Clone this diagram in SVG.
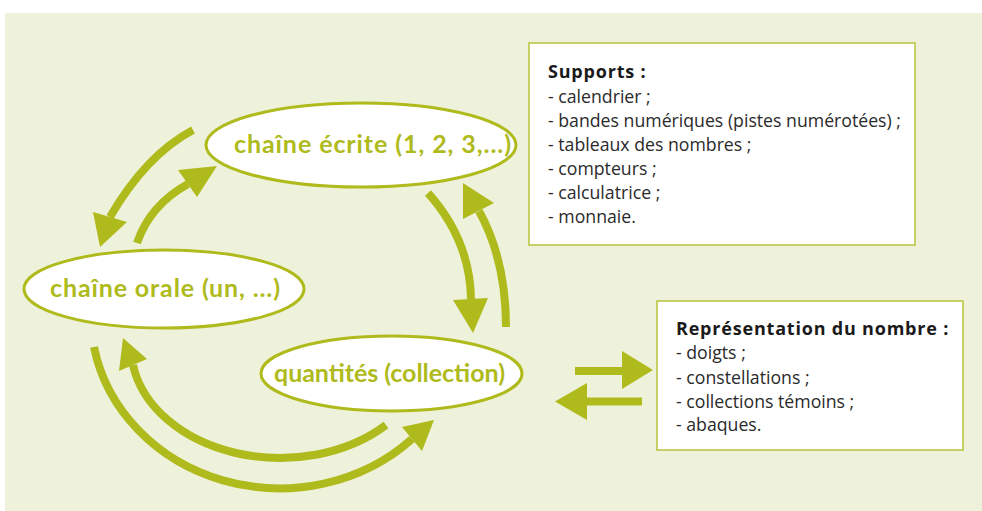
<svg xmlns="http://www.w3.org/2000/svg" width="982" height="511" viewBox="0 0 982 511">
  <style>
    .bg { fill: #eff2da; }
    .node ellipse { fill: #ffffff; stroke: #afba1c; stroke-width: 3; }
    .label { font-family: "Lato", "Open Sans", sans-serif; font-weight: bold; font-size: 25px; fill: #afba1c; text-anchor: middle; }
    .box rect { fill: #ffffff; stroke: #b8c33a; stroke-width: 1.5; }
    .box text { font-family: "Open Sans", "Noto Sans", sans-serif; font-size: 17.7px; fill: #2a2a2a; }
    .box .title { font-weight: bold; font-size: 18px; letter-spacing: 0.8px; fill: #1a1a1a; }
    .conn path { fill: none; stroke: #afba1c; stroke-width: 8; }
    .conn polygon { fill: #afba1c; }
  </style>
  <rect class="bg" x="5" y="13" width="977" height="498"/>

  <g id="connectors" class="conn">
    <!-- écrite -> orale -->
    <path d="M193,130 Q146,155 110,217"/>
    <polygon points="93,212 127,222 100,247"/>
    <!-- orale -> écrite -->
    <path d="M137,243 Q150,205 188,184"/>
    <polygon points="178,170 197,197 217,166"/>
    <!-- écrite -> quantités -->
    <path d="M428,193 Q470,240 471,299"/>
    <polygon points="453,300 488,298 473,333"/>
    <!-- quantités -> écrite -->
    <path d="M506,327 Q506,260 479,211"/>
    <polygon points="463,183 463,219 494,203"/>
    <!-- quantités -> orale (inner arc) -->
    <path d="M386,425 A149,111 0 0,1 133,365"/>
    <polygon points="123,338 119,371 147,359"/>
    <!-- orale -> quantités (outer arc) -->
    <path d="M94,347 A189,173 0 0,0 412,439"/>
    <polygon points="402,427 422,451 434,420"/>
    <!-- quantités -> représentation -->
    <path d="M575,371 H623"/>
    <polygon points="622,351 622,389 653,370"/>
    <!-- représentation -> quantités -->
    <path d="M642,401.5 H586"/>
    <polygon points="587,383 587,420 555,401.5"/>
  </g>

  <g id="chaine-ecrite" class="node">
    <ellipse cx="361" cy="145" rx="155" ry="42"/>
    <text class="label" x="372.5" y="153" textLength="277">chaîne écrite (1, 2, 3,...)</text>
  </g>

  <g id="chaine-orale" class="node">
    <ellipse cx="164" cy="289" rx="140" ry="39"/>
    <text class="label" x="165" y="297" textLength="230">chaîne orale (un, ...)</text>
  </g>

  <g id="quantites" class="node">
    <ellipse cx="391.5" cy="373.5" rx="130.5" ry="37.5"/>
    <text class="label" x="389.5" y="382" textLength="231">quantités (collection)</text>
  </g>

  <g id="supports" class="box">
    <rect x="529" y="43" width="386" height="202"/>
    <text class="title" x="548" y="78">Supports :</text>
    <text x="548" y="103">- calendrier ;</text>
    <text x="548" y="127">- bandes numériques (pistes numérotées) ;</text>
    <text x="548" y="151">- tableaux des nombres ;</text>
    <text x="548" y="175">- compteurs ;</text>
    <text x="548" y="199">- calculatrice ;</text>
    <text x="548" y="223">- monnaie.</text>
  </g>

  <g id="representation" class="box">
    <rect x="657" y="301" width="306" height="149"/>
    <text class="title" x="676" y="335">Représentation du nombre :</text>
    <text x="676" y="359">- doigts ;</text>
    <text x="676" y="384">- constellations ;</text>
    <text x="676" y="408">- collections témoins ;</text>
    <text x="676" y="431">- abaques.</text>
  </g>
</svg>
